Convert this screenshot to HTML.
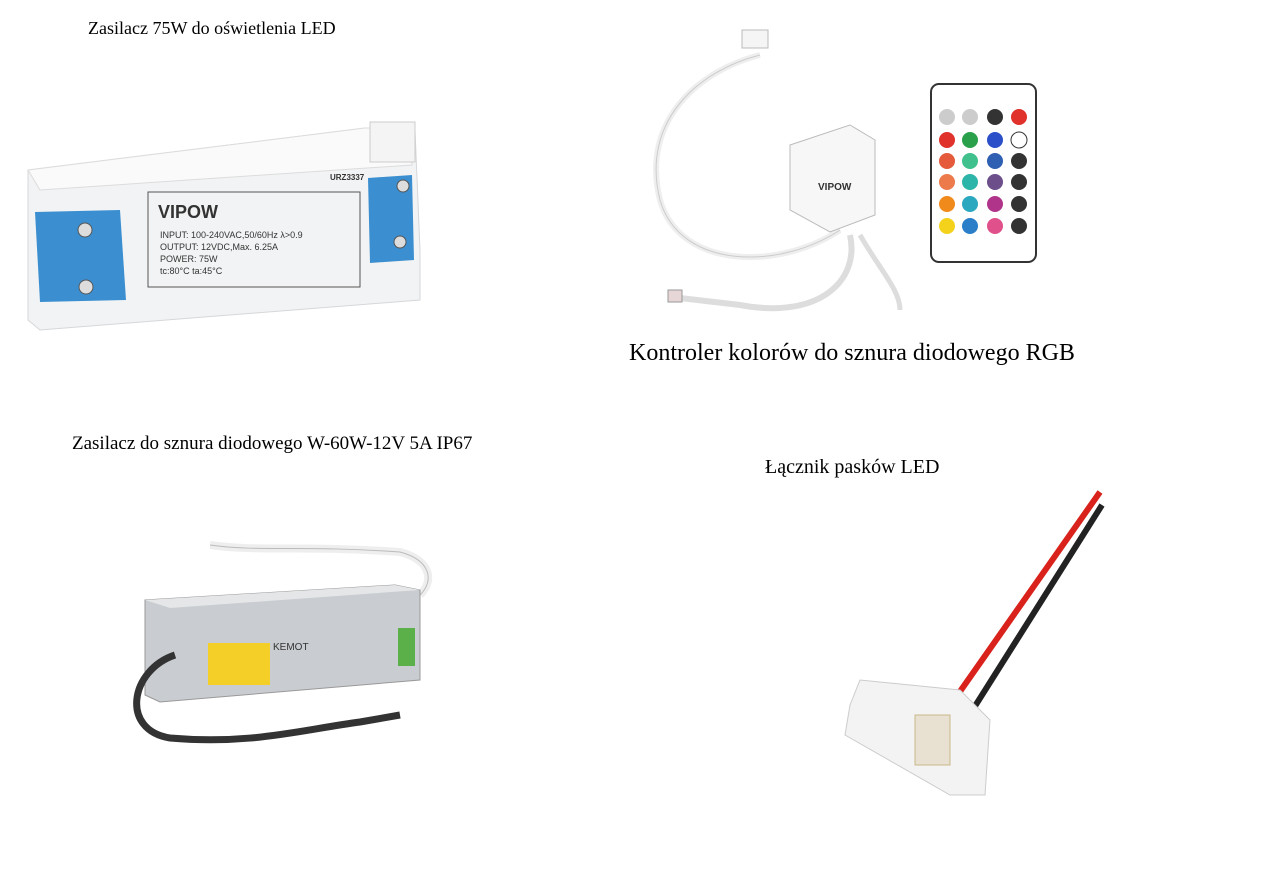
<!DOCTYPE html>
<html><head><meta charset="utf-8"><style>
html,body{margin:0;padding:0;background:#fff;}
.t{position:absolute;font-family:"Liberation Serif",serif;color:#000;white-space:nowrap;}
</style></head><body>
<div style="position:relative;width:1274px;height:879px;overflow:hidden;">
<svg width="1274" height="879" style="position:absolute;left:0;top:0">
<!-- PSU 1 -->
<path d="M28,170 L365,128 L415,130 L420,250 L420,300 L40,330 L28,320 Z" fill="#f2f3f4" stroke="#d5d7da"/>
<path d="M28,170 L365,128 L410,128 L412,165 L40,190 Z" fill="#fafafa" stroke="#dcdcdc"/>
<rect x="370" y="122" width="45" height="40" fill="#f4f4f4" stroke="#ccc"/>
<path d="M35,212 L120,210 L126,300 L40,302 Z" fill="#3b8fd0"/>
<path d="M368,178 L412,175 L414,260 L370,263 Z" fill="#3b8fd0"/>
<circle cx="85" cy="230" r="7" fill="#ddd" stroke="#555"/><circle cx="86" cy="287" r="7" fill="#ddd" stroke="#555"/>
<circle cx="403" cy="186" r="6" fill="#ddd" stroke="#555"/><circle cx="400" cy="242" r="6" fill="#ddd" stroke="#555"/>
<rect x="148" y="192" width="212" height="95" fill="none" stroke="#555"/>
<text x="158" y="218" font-family="Liberation Sans" font-weight="bold" font-size="18" fill="#333">VIPOW</text>
<text x="160" y="238" font-family="Liberation Sans" font-size="9" fill="#333">INPUT: 100-240VAC,50/60Hz  λ&gt;0.9</text>
<text x="160" y="250" font-family="Liberation Sans" font-size="9" fill="#333">OUTPUT: 12VDC,Max. 6.25A</text>
<text x="160" y="262" font-family="Liberation Sans" font-size="9" fill="#333">POWER: 75W</text>
<text x="160" y="274" font-family="Liberation Sans" font-size="9" fill="#333">tc:80°C ta:45°C</text>
<text x="330" y="180" font-family="Liberation Sans" font-size="8" font-weight="bold" fill="#333">URZ3337</text>
<!-- controller cables -->
<path d="M760,55 C700,70 640,120 660,200 C680,270 780,270 840,230" fill="none" stroke="#eee" stroke-width="6"/>
<path d="M760,55 C700,70 640,120 660,200 C680,270 780,270 840,230" fill="none" stroke="#ccc" stroke-width="1"/>
<path d="M850,235 C860,280 820,320 740,305 L680,298" fill="none" stroke="#ddd" stroke-width="6"/>
<path d="M860,235 C880,270 900,290 900,310" fill="none" stroke="#ddd" stroke-width="5"/>
<rect x="742" y="30" width="26" height="18" fill="#f5f5f5" stroke="#bbb"/>
<rect x="668" y="290" width="14" height="12" fill="#e6d6d6" stroke="#999"/>
<path d="M790,145 L850,125 L875,140 L875,215 L830,232 L790,210 Z" fill="#f7f7f7" stroke="#bbb"/>
<text x="818" y="190" font-family="Liberation Sans" font-weight="bold" font-size="10" fill="#333">VIPOW</text>
<!-- remote -->
<rect x="931" y="84" width="105" height="178" rx="8" fill="#fff" stroke="#333" stroke-width="2"/>
<g>
<circle cx="947" cy="117" r="8" fill="#ccc"/><circle cx="970" cy="117" r="8" fill="#ccc"/><circle cx="995" cy="117" r="8" fill="#333"/><circle cx="1019" cy="117" r="8" fill="#e0312a"/>
<circle cx="947" cy="140" r="8" fill="#e0312a"/><circle cx="970" cy="140" r="8" fill="#2ba04a"/><circle cx="995" cy="140" r="8" fill="#2a4fc9"/><circle cx="1019" cy="140" r="8" fill="#fff" stroke="#333"/>
<circle cx="947" cy="161" r="8" fill="#e55a3a"/><circle cx="970" cy="161" r="8" fill="#3fc08c"/><circle cx="995" cy="161" r="8" fill="#2f5fb3"/><circle cx="1019" cy="161" r="8" fill="#333"/>
<circle cx="947" cy="182" r="8" fill="#ec7a4b"/><circle cx="970" cy="182" r="8" fill="#2cb5a8"/><circle cx="995" cy="182" r="8" fill="#6b4e8a"/><circle cx="1019" cy="182" r="8" fill="#333"/>
<circle cx="947" cy="204" r="8" fill="#f08a1a"/><circle cx="970" cy="204" r="8" fill="#2aa8c0"/><circle cx="995" cy="204" r="8" fill="#b0358a"/><circle cx="1019" cy="204" r="8" fill="#333"/>
<circle cx="947" cy="226" r="8" fill="#f4d21c"/><circle cx="970" cy="226" r="8" fill="#2a7fc8"/><circle cx="995" cy="226" r="8" fill="#e0508a"/><circle cx="1019" cy="226" r="8" fill="#333"/>
</g>
<!-- PSU 2 -->
<path d="M210,545 C260,552 300,545 400,552 C430,560 435,580 420,595" fill="none" stroke="#eee" stroke-width="8"/>
<path d="M210,545 C260,552 300,545 400,552 C430,560 435,580 420,595" fill="none" stroke="#bbb" stroke-width="1"/>
<path d="M145,600 L395,585 L420,590 L420,680 L160,702 L145,695 Z" fill="#c9ccd0" stroke="#999"/>
<path d="M145,600 L395,585 L420,590 L170,608 Z" fill="#e4e6e8"/>
<rect x="208" y="643" width="62" height="42" fill="#f4cf27"/>
<rect x="398" y="628" width="17" height="38" fill="#5bb04a"/>
<text x="273" y="650" font-family="Liberation Sans" font-size="10" fill="#333">KEMOT</text>
<path d="M175,655 C130,670 120,730 170,738 C250,745 300,730 360,722 L400,715" fill="none" stroke="#333" stroke-width="7"/>
<!-- connector -->
<path d="M940,720 L1100,492" stroke="#d8221b" stroke-width="6" fill="none"/>
<path d="M965,722 L1102,505" stroke="#222" stroke-width="6" fill="none"/>
<path d="M850,705 L860,680 L960,690 L990,720 L985,795 L950,795 L845,735 Z" fill="#f3f3f3" stroke="#ccc"/>
<rect x="915" y="715" width="35" height="50" fill="#e8e0d0" stroke="#c8b88a"/>
</svg>
<div class="t" style="left:88px;top:18px;font-size:18px;">Zasilacz 75W do oświetlenia LED</div>
<div class="t" style="left:629px;top:340px;font-size:24px;">Kontroler kolorów do sznura diodowego RGB</div>
<div class="t" style="left:72px;top:433px;font-size:19px;">Zasilacz do sznura diodowego W-60W-12V 5A IP67</div>
<div class="t" style="left:765px;top:456px;font-size:20px;">Łącznik pasków LED</div>
</div>
</body></html>
